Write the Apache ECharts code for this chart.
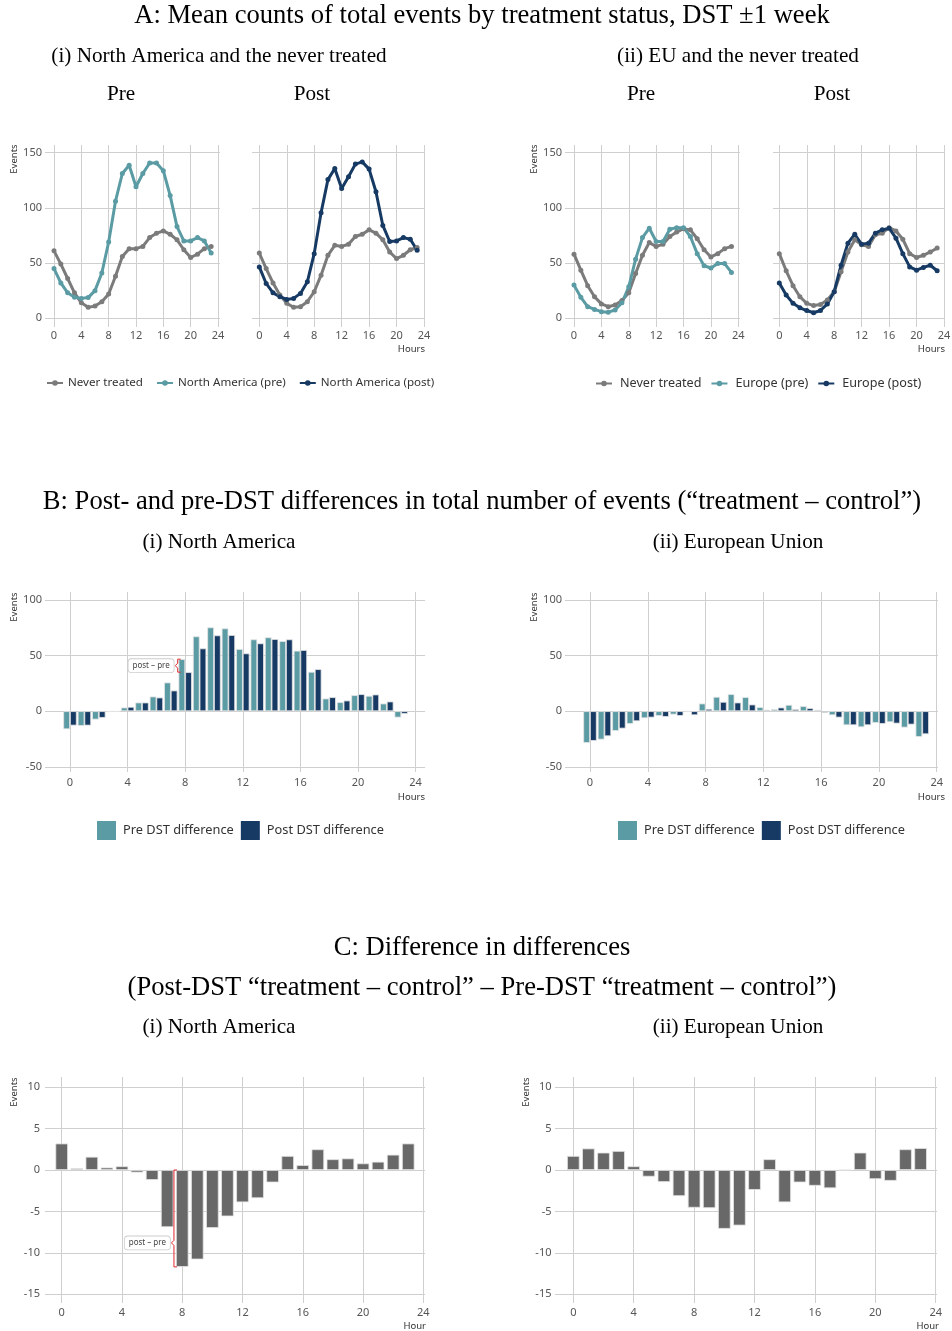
<!DOCTYPE html>
<html>
<head>
<meta charset="utf-8">
<title>DST event counts</title>
<script src="https://cdn.jsdelivr.net/npm/echarts@6/dist/echarts.min.js"></script>
<style>
  html, body { margin: 0; padding: 0; background: #ffffff; }
  #chart { width: 952px; height: 1331px; }
</style>
</head>
<body>
<div id="chart"></div>
<script>
// ---- data -------------------------------------------------------------
const hours = [0, 1, 2, 3, 4, 5, 6, 7, 8, 9, 10, 11, 12, 13, 14, 15, 16, 17, 18, 19, 20, 21, 22, 23];

// Panel A: mean counts of total events per hour
const naPreNever    = [61, 49, 36, 23, 14, 10, 11, 15, 22, 38, 56, 63, 63, 65, 73, 77, 79, 76, 71, 62, 55, 58, 63, 65];
const naPreTreated  = [45, 32, 23, 19, 18, 18.7, 25, 41, 69, 106, 131, 138.5, 119, 131, 140.5, 140.5, 133.5, 111, 83, 70, 70, 73, 70, 59];
const naPostNever   = [59, 45, 32, 21, 13.5, 10, 10.5, 15, 24, 39, 57, 66, 65, 67, 74, 76, 80, 77, 71, 60, 54, 57, 62, 64];
const naPostTreated = [46.5, 31.5, 23, 19.5, 17, 18, 22.5, 33, 58.5, 95.5, 125.5, 135.5, 117.5, 128, 139.5, 141.5, 135, 114.5, 84, 69.5, 70, 73, 71.5, 61.5];
const euPreNever    = [58, 43.5, 29.5, 19.5, 13, 10.5, 12, 16, 23, 40.5, 57, 68.5, 65, 67, 74, 78, 81, 80, 72, 62, 55.5, 58.5, 63, 65];
const euPreTreated  = [30, 19, 10.5, 8, 6, 5.5, 7.5, 14, 28.5, 53.5, 73, 81.5, 69.5, 69.5, 80.5, 82, 82, 74, 58.5, 47.5, 45.5, 49.5, 49.5, 41.5];
const euPostNever   = [58.5, 43, 29.5, 19.5, 13.5, 11.5, 12.5, 16.5, 24, 42, 60, 71, 66.5, 65, 75.5, 77, 82, 79, 71.5, 58.5, 55, 57, 60, 63.5];
const euPostTreated = [32, 21, 13.5, 9.5, 7, 5, 7, 13, 24, 48, 68, 76, 67, 68, 77, 80, 81.5, 72.5, 58.5, 46.5, 43.5, 46, 48, 43];

// Panel B: treatment - control, before and after the DST switch
const naDiffPre  = [-16.2, -13.2, -7.5, -0.5, 3.3, 7.8, 13.2, 25.8, 46.8, 67.3, 75.4, 74.5, 55.9, 64.6, 66.4, 63, 54.4, 35.4, 11.4, 8.1, 14.4, 13.8, 6.9, -5.7];
const naDiffPost = [-12.9, -12.9, -6, -0.5, 3.9, 7.8, 12.3, 18.6, 35.1, 56.5, 68.2, 68.5, 52, 61, 64.9, 64.6, 55, 37.8, 12.6, 9.6, 15.3, 15, 8.7, -2.4];
const euDiffPre  = [-28.5, -25.5, -17.7, -11.4, -6.3, -4.2, -3, -0.3, 6.9, 12.9, 15.3, 12.6, 3.6, 1.8, 5.7, 4.5, 1.2, -3.6, -12.6, -14.4, -10.5, -9.9, -14.7, -23.1];
const euDiffPost = [-26.7, -22.5, -15.6, -9, -5.7, -5.1, -4.2, -3.6, 2.1, 8.4, 7.8, 6, 1.2, 3.3, 1.8, 2.7, -1.5, -5.7, -12.6, -12.6, -11.4, -11.1, -12, -20.7];

// Panel C: difference in differences
const naDiD = [3.2, 0.2, 1.6, 0.3, 0.45, -0.3, -1.2, -6.9, -11.7, -10.8, -7.0, -5.6, -3.9, -3.4, -1.5, 1.7, 0.6, 2.5, 1.3, 1.4, 0.8, 1.0, 1.85, 3.2];
const euDiD = [1.7, 2.6, 2.1, 2.3, 0.45, -0.8, -1.45, -3.15, -4.55, -4.6, -7.1, -6.7, -2.4, 1.3, -3.9, -1.5, -1.9, -2.2, 0, 2.1, -1.1, -1.3, 2.5, 2.65];

const legendNA = ['Never treated', 'North America (pre)', 'North America (post)'];
const legendEU = ['Never treated', 'Europe (pre)', 'Europe (post)'];
const legendDiff = ['Pre DST difference', 'Post DST difference'];

// ---- style -------------------------------------------------------------
const SANS = '"Noto Sans", "Open Sans", sans-serif';
const SERIF = '"Liberation Serif", "Times New Roman", serif';
const GRID_COLOR = '#cfcfcf';
const LABEL_COLOR = '#555555';
const GRAY = '#7b7b7b';
const TEAL = '#5a9ba4';
const NAVY = '#163a63';
const BAR_GRAY = '#686868';
const RED = '#e0282d';

const grids = [], xAxes = [], yAxes = [], series = [], graphics = [];

// Each panel is two overlapping grids: the outer one carries the horizontal
// reference lines and value labels, the inner one the hour axis and the data.
function addPanel(cfg) {
  const y = cfg.y;
  const outer = grids.length;
  grids.push({ left: cfg.outer[0], width: cfg.outer[1] - cfg.outer[0], top: y.top, height: y.bottom - y.top,
               containLabel: false, outerBoundsMode: 'none' });
  xAxes.push({ gridIndex: outer, type: 'value', min: 0, max: 1, show: false });
  yAxes.push({
    gridIndex: outer, type: 'value', min: y.min, max: y.max,
    splitNumber: y.split, minInterval: y.step, maxInterval: y.step,
    axisLine: { show: false }, axisTick: { show: false },
    axisLabel: { show: cfg.yLabels, showMinLabel: false, showMaxLabel: false, margin: cfg.yMargin,
                 fontSize: 11, color: LABEL_COLOR, fontFamily: SANS },
    splitLine: { show: true, showMinLine: false, showMaxLine: false, lineStyle: { color: GRID_COLOR, width: 1 } }
  });
  const inner = grids.length;
  grids.push({ left: cfg.inner[0], width: cfg.inner[1] - cfg.inner[0], top: y.top, height: y.bottom - y.top,
               containLabel: false, outerBoundsMode: 'none' });
  xAxes.push({
    gridIndex: inner, type: 'value', min: 0, max: 24, interval: 4,
    axisLine: { show: false }, axisTick: { show: false },
    axisLabel: { margin: cfg.xMargin, fontSize: 11, color: LABEL_COLOR, fontFamily: SANS },
    splitLine: { show: true, lineStyle: { color: GRID_COLOR, width: 1 } }
  });
  yAxes.push({ gridIndex: inner, type: 'value', min: y.min, max: y.max, show: false });
  return inner;
}

function pairs(values) { return hours.map((h, i) => [h, values[i]]); }

function lineSeries(name, g, values, color) {
  return {
    name, type: 'line', xAxisIndex: g, yAxisIndex: g, data: pairs(values),
    symbol: 'circle', symbolSize: 5, showSymbol: true,
    lineStyle: { width: 3, color }, itemStyle: { color },
    emphasis: { disabled: true }, silent: true
  };
}

function barSeries(name, g, values, color, width) {
  return {
    name, type: 'bar', xAxisIndex: g, yAxisIndex: g, data: pairs(values),
    barWidth: width, barGap: '0%',
    itemStyle: { color, borderColor: '#e4e4e4', borderWidth: 0.8 },
    emphasis: { disabled: true }, silent: true
  };
}

// Red brace with a "post – pre" tag, placed in data coordinates.
function braceSeries(g, item) {
  return {
    type: 'custom', xAxisIndex: g, yAxisIndex: g, silent: true, z: 5,
    data: [item],
    renderItem: function (params, api) {
      const x = api.value(0);
      const pTop = api.coord([x, api.value(1)]);
      const pBot = api.coord([x, api.value(2)]);
      const pTip = api.coord([x, api.value(3)]);
      const px = pTop[0];
      return {
        type: 'group',
        children: [
          { type: 'polyline',
            shape: { points: [[px + 3, pTop[1]], [px, pTop[1]], [px, pTip[1] - 2.5], [px - 2.5, pTip[1]],
                              [px, pTip[1] + 2.5], [px, pBot[1]], [px + 3, pBot[1]]] },
            style: { fill: null, stroke: RED, lineWidth: 1 } },
          { type: 'text', x: px - 4, y: pTip[1],
            style: { text: 'post – pre', align: 'right', verticalAlign: 'middle', fontSize: 8,
                     fontFamily: SANS, fill: '#444', backgroundColor: '#ffffff', borderColor: '#cccccc',
                     borderWidth: 0.8, borderRadius: 3, padding: [3, 4, 2, 4] } }
        ]
      };
    }
  };
}

function serif(str, x, y, size) {
  graphics.push({ type: 'text', x, y,
    style: { text: str, align: 'center', verticalAlign: 'middle', fill: '#000', font: size + 'px ' + SERIF } });
}
function small(str, x, y, align, rotate) {
  graphics.push({ type: 'text', x, y, rotation: rotate ? Math.PI / 2 : 0,
    style: { text: str, align: align || 'center', verticalAlign: 'middle', fill: '#333',
             font: '9.5px ' + SANS } });
}

// ---- panel A -----------------------------------------------------------
const yA = { top: 145, bottom: 327, min: -7.9, max: 156.8, step: 50, split: 3 };
const gNApre  = addPanel({ y: yA, outer: [45, 220],  inner: [54, 218],    yLabels: true,  yMargin: 3, xMargin: 3 });
const gNApost = addPanel({ y: yA, outer: [252, 425], inner: [259.3, 424], yLabels: false, yMargin: 3, xMargin: 3 });
const gEUpre  = addPanel({ y: yA, outer: [565, 740], inner: [574, 738.3], yLabels: true,  yMargin: 3, xMargin: 3 });
const gEUpost = addPanel({ y: yA, outer: [773, 945], inner: [779.3, 944], yLabels: false, yMargin: 3, xMargin: 3 });

series.push(lineSeries('Never treated', gNApre, naPreNever, GRAY));
series.push(lineSeries('North America (pre)', gNApre, naPreTreated, TEAL));
series.push(lineSeries('Never treated', gNApost, naPostNever, GRAY));
series.push(lineSeries('North America (post)', gNApost, naPostTreated, NAVY));
series.push(lineSeries('Never treated', gEUpre, euPreNever, GRAY));
series.push(lineSeries('Europe (pre)', gEUpre, euPreTreated, TEAL));
series.push(lineSeries('Never treated', gEUpost, euPostNever, GRAY));
series.push(lineSeries('Europe (post)', gEUpost, euPostTreated, NAVY));

// ---- panel B -----------------------------------------------------------
const yB = { top: 592, bottom: 772, min: -54.7, max: 107.2, step: 50, split: 3 };
const gBna = addPanel({ y: yB, outer: [45, 425],  inner: [70, 415.6],  yLabels: true, yMargin: 3, xMargin: 5 });
const gBeu = addPanel({ y: yB, outer: [565, 938], inner: [590, 936.7], yLabels: true, yMargin: 3, xMargin: 5 });

series.push(barSeries('Pre DST difference', gBna, naDiffPre, TEAL, 6.7));
series.push(barSeries('Post DST difference', gBna, naDiffPost, NAVY, 6.7));
series.push(barSeries('Pre DST difference', gBeu, euDiffPre, TEAL, 6.7));
series.push(barSeries('Post DST difference', gBeu, euDiffPost, NAVY, 6.7));
series.push(braceSeries(gBna, [7.48, naDiffPre[8], naDiffPost[8], (naDiffPre[8] + naDiffPost[8]) / 2]));

// ---- panel C -----------------------------------------------------------
const yC = { top: 1077, bottom: 1303, min: -16.06, max: 11.23, step: 5, split: 5 };
const gCna = addPanel({ y: yC, outer: [45, 425],  inner: [61.7, 423.3],  yLabels: true, yMargin: 5, xMargin: 4 });
const gCeu = addPanel({ y: yC, outer: [555, 937], inner: [573.3, 935.7], yLabels: true, yMargin: 3.5, xMargin: 4 });

series.push(barSeries('Difference in differences (NA)', gCna, naDiD, BAR_GRAY, 12.6));
series.push(barSeries('Difference in differences (EU)', gCeu, euDiD, BAR_GRAY, 12.6));
series.push(braceSeries(gCna, [7.45, 0, naDiD[8], -8.8]));

// ---- headings and axis captions -----------------------------------------
serif('A: Mean counts of total events by treatment status, DST ±1 week', 482, 16, 26.6);
serif('(i) North America and the never treated', 219, 56, 21.2);
serif('(ii) EU and the never treated', 738, 56, 21.2);
serif('Pre', 121, 94, 21.2);
serif('Post', 312, 94, 21.2);
serif('Pre', 641, 94, 21.2);
serif('Post', 832, 94, 21.2);
serif('B: Post- and pre-DST differences in total number of events (“treatment – control”)', 482, 502, 26.6);
serif('(i) North America', 219, 542, 21.2);
serif('(ii) European Union', 738, 542, 21.2);
serif('C: Difference in differences', 482, 948, 26.6);
serif('(Post-DST “treatment – control” – Pre-DST “treatment – control”)', 482, 988, 26.6);
serif('(i) North America', 219, 1027, 21.2);
serif('(ii) European Union', 738, 1027, 21.2);

small('Events', 14, 159, 'center', true);
small('Events', 534, 159, 'center', true);
small('Events', 14, 607, 'center', true);
small('Events', 534, 607, 'center', true);
small('Events', 14, 1092, 'center', true);
small('Events', 526, 1092, 'center', true);
small('Hours', 425, 349, 'right');
small('Hours', 945, 349, 'right');
small('Hours', 425, 797, 'right');
small('Hours', 945, 797, 'right');
small('Hour', 426, 1326, 'right');
small('Hour', 939, 1326, 'right');

// ---- legends -----------------------------------------------------------
const lineLegend = (names, left, size, gap, textPad) => ({
  data: names, left, top: 377, orient: 'horizontal', padding: 0, itemGap: gap,
  itemWidth: 16, itemHeight: 7, selectedMode: false,
  textStyle: { fontSize: size, color: '#333', fontFamily: SANS, padding: [0, 0, 0, textPad] }
});
const barLegend = (left) => ({
  data: legendDiff, left, top: 821, orient: 'horizontal', padding: 0, itemGap: 7,
  itemWidth: 19, itemHeight: 19, icon: 'rect', selectedMode: false,
  itemStyle: { borderWidth: 0 },
  textStyle: { fontSize: 12.8, color: '#333', fontFamily: SANS, padding: [0, 0, 0, 2] }
});

const chart = echarts.init(document.getElementById('chart'), null, { renderer: 'canvas' });
chart.setOption({
  animation: false,
  backgroundColor: '#ffffff',
  textStyle: { fontFamily: SANS },
  grid: grids,
  xAxis: xAxes,
  yAxis: yAxes,
  legend: [
    lineLegend(legendNA, 46, 11.6, 13, 0),
    lineLegend(legendEU, 595, 12.6, 9, 3),
    barLegend(97),
    barLegend(618)
  ],
  series: series,
  graphic: { elements: graphics }
});
</script>
</body>
</html>
